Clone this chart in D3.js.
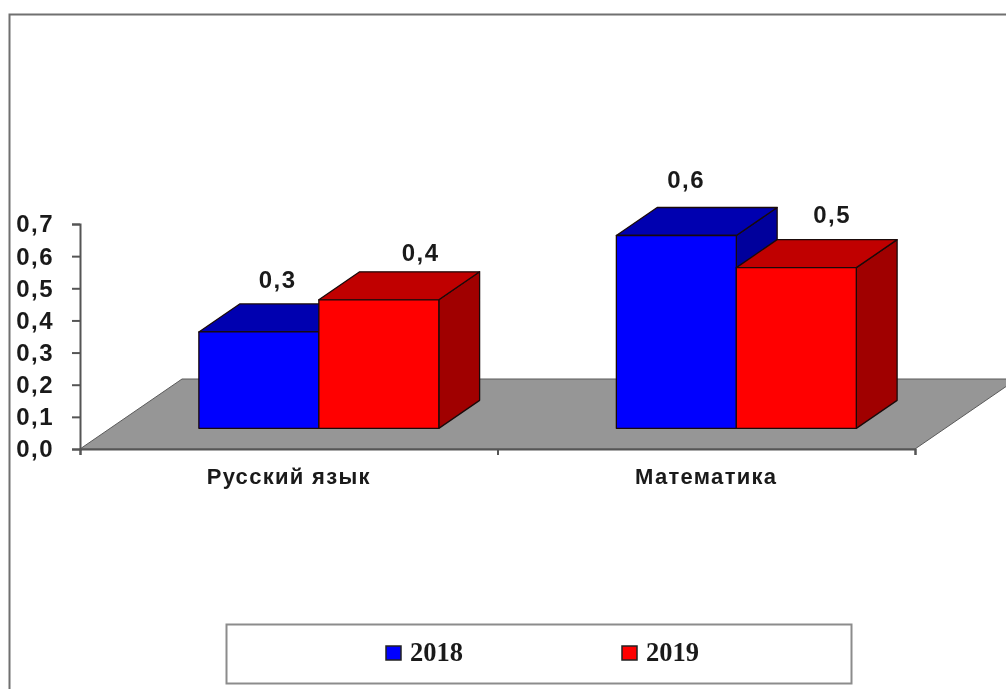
<!DOCTYPE html>
<html>
<head>
<meta charset="utf-8">
<script src="https://cdn.jsdelivr.net/npm/d3@7"></script>
<style>
    html, body { margin: 0; padding: 0; background: #fff; overflow: hidden; }
    svg { display: block; filter: blur(0.6px); }
    text { fill: #1a1a1a; font-family: "Liberation Sans", Arial, sans-serif; font-weight: bold; }
</style>
</head>
<body>
<div id="chart"></div>
<script>
// chart values
var categories = ["Русский язык", "Математика"];
var seriesNames = ["2018", "2019"];
var values2018 = [0.3, 0.6];
var values2019 = [0.4, 0.5];
var yTicks = [0, 0.1, 0.2, 0.3, 0.4, 0.5, 0.6, 0.7];

var svgWidth = 1006;
var svgHeight = 689;

// fake 3D: how far the back of the floor is shifted from its front edge
var depthX = 102;
var depthY = 70;
var barNear = 0.295;
var barFar = 0.695;

var colors = {
    "2018": { front: "#0000ff", top: "#0000b0", side: "#00009c" },
    "2019": { front: "#ff0000", top: "#c00000", side: "#a00000" }
};

// the value labels sit where the original chart left them, by series and category
var labelNudge = {
    "2018": [{ x: -22, y: -16 }, { x: -31, y: -19 }],
    "2019": [{ x: 1, y: -11 }, { x: -5, y: -17 }]
};

var svg = d3.select("#chart")
    .append("svg")
    .attr("width", svgWidth)
    .attr("height", svgHeight);

// picture frame, only top and left edges are visible
svg.append("path")
    .attr("d", "M9.5,689V14.5H1006")
    .attr("fill", "none")
    .attr("stroke", "#707070")
    .attr("stroke-width", 2);

// scales
var x0 = d3.scaleBand().domain(categories).range([80, 915]);
var x1 = d3.scaleBand().domain(seriesNames).range([0, x0.bandwidth()]).paddingInner(0).paddingOuter(0.74);
var y = d3.scaleLinear().domain([0, 0.7]).range([449, 224]);
var edgeScale = d3.scaleLinear().domain([0, categories.length]).range(x0.range());

var commaFormat = d3.formatLocale({ decimal: ",", thousands: " ", grouping: [3], currency: ["", ""] }).format(".1f");

// shift a point on the front plane into the depth of the chart
function project(px, py, depth) {
    return [px + depth * depthX, py - depth * depthY];
}

// floor
var floorLeft = edgeScale.range()[0];
var floorRight = edgeScale.range()[1];
var floorY = y(0);
svg.append("path")
    .attr("d", d3.line()([
        project(floorLeft, floorY, 0),
        project(floorLeft, floorY, 1),
        project(floorRight, floorY, 1),
        project(floorRight, floorY, 0)
    ]) + "Z")
    .attr("fill", "#969696")
    .attr("stroke", "#5a5a5a")
    .attr("stroke-width", 1);

// axes
var leftAxis = d3.axisLeft(y).tickValues(yTicks).tickFormat(commaFormat).tickSize(8).tickPadding(18);
var bottomAxis = d3.axisBottom(edgeScale).ticks(categories.length).tickFormat("").tickSize(6);

var yAxisGroup = svg.append("g")
    .attr("transform", "translate(" + floorLeft + ",0)")
    .call(leftAxis);
yAxisGroup.selectAll("text")
    .attr("text-anchor", "end")
    .style("font-size", "24px")
    .style("letter-spacing", "1.5px")
    .style("font-family", "'Liberation Sans', Arial, sans-serif")
    .attr("dy", "0.33em");

var xAxisGroup = svg.append("g")
    .attr("transform", "translate(0," + floorY + ")")
    .call(bottomAxis);

svg.selectAll(".domain, .tick line")
    .attr("stroke", "#555")
    .attr("stroke-width", 2);

// category labels
svg.append("g").selectAll("text")
    .data(categories)
    .enter()
    .append("text")
    .attr("x", d => x0(d) + x0.bandwidth() / 2)
    .attr("y", 484)
    .attr("text-anchor", "middle")
    .style("font-size", "22px")
    .style("letter-spacing", "1.3px")
    .text(d => d);

// bars, back to front inside each category
var barData = [];
categories.forEach(function(cat, i) {
    barData.push({ cat: cat, series: "2018", value: values2018[i], index: i });
    barData.push({ cat: cat, series: "2019", value: values2019[i], index: i });
});

var bars = svg.append("g").selectAll("g")
    .data(barData)
    .enter()
    .append("g");

function face(d, which) {
    var left = x0(d.cat) + x1(d.series);
    var right = left + x1.bandwidth();
    var top = y(d.value);
    var base = y(0);
    var near = function(px, py) { return project(px, py, barNear); };
    var far = function(px, py) { return project(px, py, barFar); };
    if (which === "front") {
        return [near(left, top), near(right, top), near(right, base), near(left, base)];
    }
    if (which === "top") {
        return [near(left, top), far(left, top), far(right, top), near(right, top)];
    }
    return [near(right, top), far(right, top), far(right, base), near(right, base)];
}

["side", "top", "front"].forEach(function(which) {
    bars.append("path")
        .attr("d", d => d3.line()(face(d, which)) + "Z")
        .attr("fill", d => colors[d.series][which])
        .attr("stroke", "#1a0a0a")
        .attr("stroke-width", 1.3)
        .attr("stroke-linejoin", "round");
});

// value labels
bars.append("text")
    .attr("x", function(d) {
        return project(x0(d.cat) + x1(d.series) + x1.bandwidth() / 2, 0, barFar)[0] + labelNudge[d.series][d.index].x;
    })
    .attr("y", function(d) {
        return project(0, y(d.value), barFar)[1] + labelNudge[d.series][d.index].y;
    })
    .attr("text-anchor", "middle")
    .style("font-size", "24px")
    .style("letter-spacing", "1.5px")
    .text(d => commaFormat(d.value));

// legend
svg.append("rect")
    .attr("x", 226.5)
    .attr("y", 624.5)
    .attr("width", 625)
    .attr("height", 59)
    .attr("fill", "#fff")
    .attr("stroke", "#8c8c8c")
    .attr("stroke-width", 2);

var legendX = d3.scaleOrdinal().domain(seriesNames).range([386, 622]);

var legendItems = svg.append("g").selectAll("g")
    .data(seriesNames)
    .enter()
    .append("g")
    .attr("transform", d => "translate(" + legendX(d) + ",646)");

legendItems.append("rect")
    .attr("width", 15)
    .attr("height", 14)
    .attr("fill", d => colors[d].front)
    .attr("stroke", "#222")
    .attr("stroke-width", 1.5);

legendItems.append("text")
    .attr("x", 24)
    .attr("y", 15)
    .style("font-family", "'Liberation Serif', 'Times New Roman', serif")
    .style("font-size", "26.5px")
    .text(d => d);
</script>
</body>
</html>
